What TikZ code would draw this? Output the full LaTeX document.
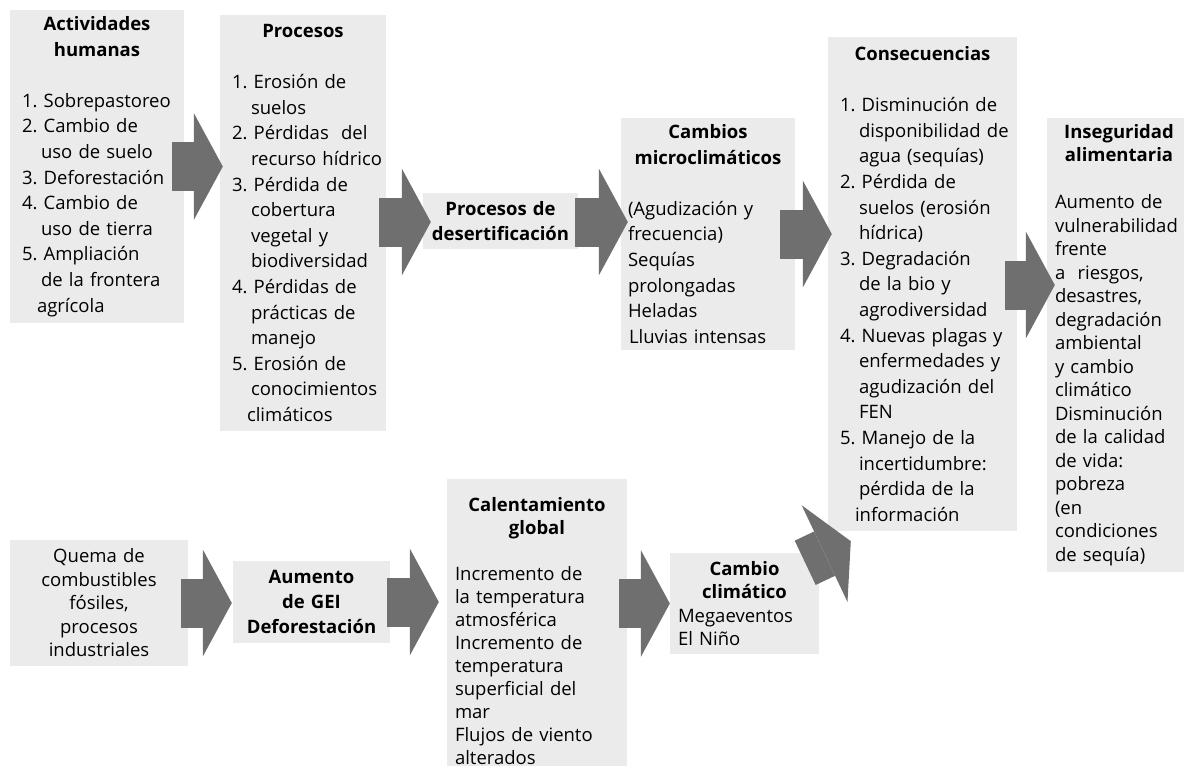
\documentclass[tikz,border=0pt]{standalone}
\usepackage{fontspec}
\setmainfont{Open Sans}
\usepackage{xcolor}
\usepackage{tikz}
\usetikzlibrary{arrows.meta, positioning, calc}
\definecolor{boxgray}{HTML}{EBEBEB}
\definecolor{arrowgray}{HTML}{6F6F6F}
\frenchspacing

\newcommand\boxtitle[1]{{\centering\bfseries #1\par}}
\newcommand\cont{\hspace*{19pt}}
\newcommand\boxbody[1]{\leftskip=#1pt\rightskip=0pt plus 1fil minus 300pt\relax}

\begin{document}
\begin{tikzpicture}[x=1pt, y=-1pt,
    box/.style={fill=boxgray, inner sep=0pt, align=left, font=\fontsize{18.5}{25.6}\selectfont},
    tight/.style={font=\fontsize{18.5}{23.5}\selectfont},
    flecha/.style={draw=arrowgray, line width=49pt, -{Triangle[length=29pt, width=107pt, line width=0pt]}}]
  \useasboundingbox (0,0) rectangle (1184,766);

  % Top row
  \node[box, text width=158pt, minimum width=174pt, minimum height=313pt] (act) at (97,166.5)
    {\parindent0pt\boxtitle{Actividades\\humanas}\vspace{\baselineskip}\boxbody{4}%
     1. Sobrepastoreo\\2. Cambio de\\\cont uso de suelo\\3. Deforestación\\4. Cambio de\\\cont uso de tierra\\5. Ampliación\\\cont de la frontera\\\cont agrícola};
  \node[box, text width=150pt, minimum width=166pt, minimum height=416pt] (proc) at (303,223)
    {\parindent0pt\boxtitle{Procesos}\vspace{\baselineskip}\boxbody{4}%
     1. Erosión de\\\cont suelos\\2. Pérdidas~ del\\\cont recurso hídrico\\3. Pérdida de\\\cont cobertura\\\cont vegetal y\\\cont biodiversidad\\4. Pérdidas de\\\cont prácticas de\\\cont manejo\\5. Erosión de\\\cont conocimientos\\\cont climáticos};
  \node[box, align=center, text width=139pt, minimum width=155pt, minimum height=56pt, font=\fontsize{18.5}{25}\selectfont\bfseries] (des) at (500.5,221)
    {Procesos de\\desertificación};
  \node[box, text width=158pt, minimum width=174pt, minimum height=232pt] (mic) at (708,234)
    {\parindent0pt\boxtitle{Cambios\\microclimáticos}\vspace{\baselineskip}\boxbody{-1}%
     (Agudización y\\frecuencia)\\Sequías\\prolongadas\\Heladas\\Lluvias intensas};
  \node[box, text width=173pt, minimum width=189pt, minimum height=494pt] (cons) at (922.5,284)
    {\parindent0pt\boxtitle{Consecuencias}\vspace{\baselineskip}\boxbody{4}%
     1. Disminución de\\\cont disponibilidad de\\\cont agua (sequías)\\2. Pérdida de\\\cont suelos (erosión\\\cont hídrica)\\3. Degradación\\\cont de la bio y\\\cont agrodiversidad\\4. Nuevas plagas y\\\cont enfermedades y\\\cont agudización del\\\cont FEN\\5. Manejo de la\\\cont incertidumbre:\\\cont pérdida de la\\\cont información};
  \node[box, tight, text width=128pt, minimum width=144pt, minimum height=454pt] (ins) at (1119,345)
    {\parindent0pt\boxtitle{Inseguridad\\alimentaria}\vspace{\baselineskip}\boxbody{0}%
     Aumento de\\vulnerabilidad\\frente\\a~ riesgos,\\desastres,\\degradación\\ambiental\\y cambio\\climático\\Disminución\\de la calidad\\de vida:\\pobreza\\(en\\condiciones\\de sequía)};

  % Bottom row
  \node[box, tight, align=center, text width=162pt, minimum width=178pt, minimum height=126pt] (quema) at (99,603)
    {Quema de\\combustibles\\fósiles,\\procesos\\industriales};
  \node[box, align=center, text width=141pt, minimum width=157pt, minimum height=82pt, font=\fontsize{18.5}{25}\selectfont\bfseries] (gei) at (311.5,602)
    {Aumento\\de GEI\\Deforestación};
  \node[box, text width=164pt, minimum width=180pt, minimum height=305pt, font=\fontsize{18.5}{23}\selectfont] (cal) at (537,631.5)
    {\parindent0pt\boxtitle{Calentamiento\\global}\vspace{\baselineskip}\boxbody{0}%
     Incremento de\\la temperatura\\atmosférica\\Incremento de\\temperatura\\superficial del\\mar\\Flujos de viento\\alterados};
  \node[box, tight, text width=133pt, minimum width=149pt, minimum height=101pt] (cc) at (744.5,603.5)
    {\parindent0pt\boxtitle{Cambio\\climático}\boxbody{0}%
     Megaeventos\\El Niño};

  % Block arrows
  \draw[flecha] ($(act.east)+(-12,0)$) -- ($(act.east -| proc.west)+(3,0)$);
  \draw[flecha] ($(proc.east)+(-7,-1)$) -- ($(proc.east -| des.west)+(8,-1)$);
  \draw[flecha] ($(des.east)+(-3,1)$) -- ($(des.east -| mic.west)+(7,1)$);
  \draw[flecha] ($(mic.east)+(-15,0)$) -- ($(mic.east -| cons.west)+(4,0)$);
  \draw[flecha] ($(cons.east)+(-12,1)$) -- ($(cons.east -| ins.west)+(8,1)$);
  \draw[flecha] ($(quema.east)+(-7,0)$) -- ($(quema.east -| gei.west)+(-1,0)$);
  \draw[flecha] ($(gei.east)+(-3,0)$) -- ($(gei.east -| cal.west)+(-8,0)$);
  \draw[flecha] ($(cc.west -| cal.east)+(-8,0)$) -- (cc.west);
  \draw[flecha] ($(cc.north east)+(-14,10)$) -- ($(cons.south west)+(23,10)$);
\end{tikzpicture}
\end{document}
